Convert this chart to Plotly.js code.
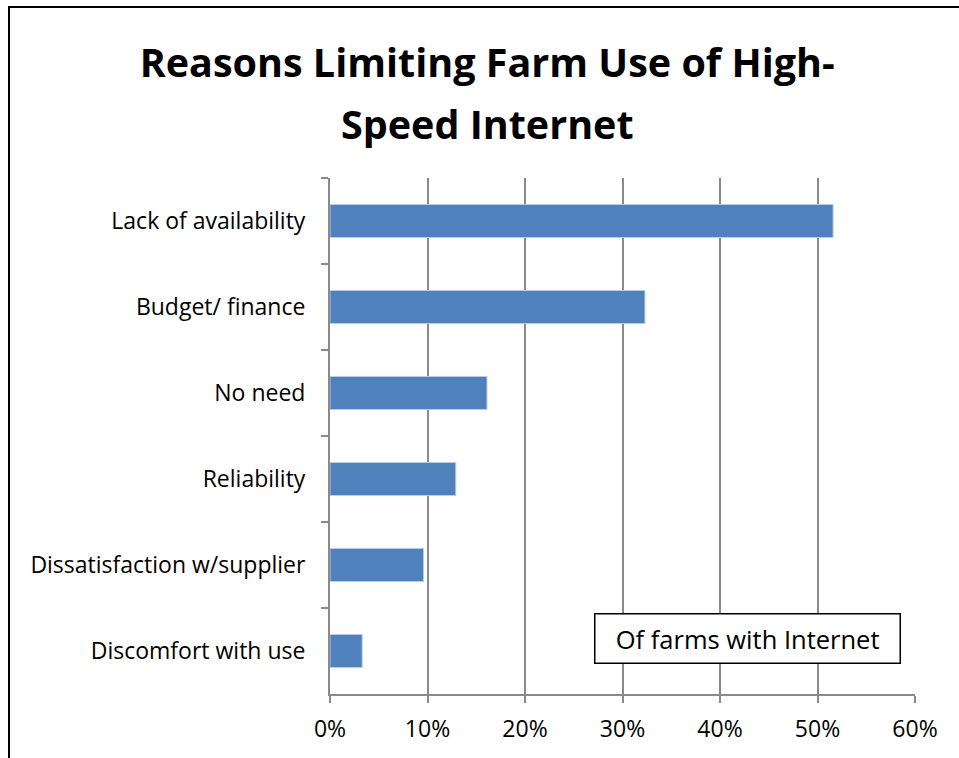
<!DOCTYPE html>
<html>
<head>
<meta charset="utf-8">
<script src="https://cdn.plot.ly/plotly-3.0.1.min.js"></script>
<style>
  body { margin: 0; overflow: hidden; background: #fff; }
  #chart { width: 959px; height: 758px; }
  #frame {
    position: absolute; left: 8px; top: 6px;
    width: 980px; height: 780px;
    border: 2px solid #000; pointer-events: none;
  }
</style>
</head>
<body>
<div id="chart"></div>
<div id="frame"></div>
<script>
const reasons = [
    'Lack of availability',
    'Budget/ finance',
    'No need',
    'Reliability',
    'Dissatisfaction w/supplier',
    'Discomfort with use'
];
const shares = [0.516, 0.323, 0.161, 0.129, 0.096, 0.033];
const tickVals = [0, 0.1, 0.2, 0.3, 0.4, 0.5, 0.6];
const tickText = ['0%', '10%', '20%', '30%', '40%', '50%', '60%'];
const titleLine1 = 'Reasons Limiting Farm Use of High-';
const titleLine2 = 'Speed Internet';
const noteText = 'Of farms with Internet';

const font = '"Open Sans", Carlito, Calibri, sans-serif';

const trace = {
    type: 'bar',
    orientation: 'h',
    y: reasons,
    x: shares,
    marker: {
        color: '#4F81BD',
        line: {color: '#B9CDE5', width: 1}
    },
    hoverinfo: 'x+y'
};

const layout = {
    width: 959,
    height: 758,
    paper_bgcolor: '#fff',
    plot_bgcolor: '#fff',
    margin: {l: 330, r: 44, t: 178, b: 64},
    font: {family: font, size: 23, color: '#000'},
    // title is drawn as two pieces so the line spacing matches the original
    title: {
        text: '<b>' + titleLine1 + '</b>',
        font: {family: font, size: 39.5, color: '#000'},
        xref: 'container',
        yref: 'container',
        x: 0.508,
        xanchor: 'center',
        y: 0.916,
        yanchor: 'middle'
    },
    bargap: 0.615,
    showlegend: false,
    xaxis: {
        range: [0, 0.6],
        tickvals: tickVals,
        ticktext: tickText,
        showgrid: true,
        gridcolor: '#8a8a8a',
        gridwidth: 2,
        zeroline: false,
        showline: true,
        linecolor: '#8a8a8a',
        linewidth: 2,
        ticks: 'outside',
        ticklen: 7,
        tickcolor: '#8a8a8a',
        tickwidth: 2,
        ticklabelstandoff: 6,
        tickfont: {size: 23},
        fixedrange: true
    },
    yaxis: {
        type: 'category',
        autorange: 'reversed',
        showgrid: false,
        zeroline: false,
        showline: true,
        linecolor: '#8a8a8a',
        linewidth: 2,
        ticks: 'outside',
        tickson: 'boundaries',
        ticklen: 7,
        tickcolor: '#8a8a8a',
        tickwidth: 2,
        ticklabelstandoff: 18,
        tickfont: {size: 23},
        fixedrange: true
    },
    annotations: [{
        text: '<b>' + titleLine2 + '</b>',
        xref: 'paper',
        yref: 'paper',
        x: 0.270,
        y: 1.104,
        xanchor: 'center',
        yanchor: 'middle',
        showarrow: false,
        font: {family: font, size: 39.5, color: '#000'}
    }, {
        text: '&nbsp;&nbsp;' + noteText + '&nbsp;&nbsp;',
        xref: 'paper',
        yref: 'paper',
        x: 0.976,
        y: 0.058,
        xanchor: 'right',
        yanchor: 'bottom',
        showarrow: false,
        font: {family: font, size: 25.5, color: '#000'},
        bgcolor: '#fff',
        bordercolor: '#000',
        borderwidth: 1.5,
        borderpad: 7
    }]
};

Plotly.newPlot('chart', [trace], layout, {displayModeBar: false, staticPlot: true});
</script>
</body>
</html>
